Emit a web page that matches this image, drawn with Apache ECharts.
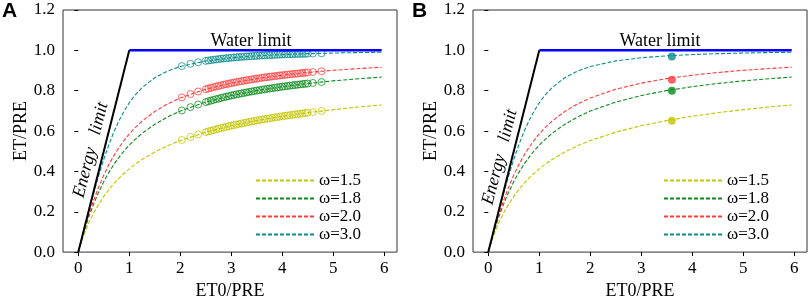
<!DOCTYPE html>
<html>
<head>
<meta charset="utf-8">
<script src="https://cdn.jsdelivr.net/npm/echarts@6/dist/echarts.min.js"></script>
<style>
  html, body { margin: 0; padding: 0; background: #fff; }
  #chart { width: 809px; height: 305px; }
</style>
</head>
<body>
<div id="chart"></div>
<script>
// ── Data ───────────────────────────────────────────────
const omegaNames = ['ω=1.5', 'ω=1.8', 'ω=2.0', 'ω=3.0'];
const omegaColors = ['#c4c400', '#0a8a1a', '#ff3b3b', '#0a8c8c'];

// Budyko curves (ET0/PRE -> ET/PRE)
const curveX = [0, 0.05, 0.1, 0.2, 0.3, 0.4, 0.5, 0.6, 0.7, 0.8, 0.9, 1.0, 1.1, 1.25,
                1.5, 1.75, 2.0, 2.5, 3.0, 3.5, 4.0, 4.5, 5.0, 5.5, 5.95];
const curve15 = [0, 0.0426, 0.0790, 0.1412, 0.1933, 0.2378, 0.2764, 0.3102, 0.3402, 0.3670, 0.3909, 0.4126, 0.4323, 0.4587,
                 0.4959, 0.5267, 0.5527, 0.5944, 0.6266, 0.6522, 0.6733, 0.6910, 0.7060, 0.7192, 0.7295];
const curve18 = [0, 0.0475, 0.0912, 0.1697, 0.2379, 0.2974, 0.3494, 0.3951, 0.4352, 0.4707, 0.5022, 0.5303, 0.5554, 0.5884,
                 0.6335, 0.6697, 0.6989, 0.7436, 0.7760, 0.8006, 0.8200, 0.8356, 0.8489, 0.8592, 0.8677];
const curve20 = [0, 0.0488, 0.0950, 0.1802, 0.2560, 0.3230, 0.3820, 0.4338, 0.4793, 0.5194, 0.5546, 0.5858, 0.6134, 0.6492,
                 0.6972, 0.7344, 0.7639, 0.8074, 0.8377, 0.8599, 0.8769, 0.8902, 0.9010, 0.9098, 0.9166];
const curve30 = [0, 0.0500, 0.0997, 0.1973, 0.2911, 0.3791, 0.4600, 0.5326, 0.5966, 0.6522, 0.6998, 0.7401, 0.7741, 0.8153,
                 0.8644, 0.8973, 0.9199, 0.9477, 0.9634, 0.9730, 0.9793, 0.9836, 0.9867, 0.9890, 0.9906];

// Panel A: station points (open circles)
const pointsX = [2.03, 2.2, 2.35, 2.5, 2.55, 2.6, 2.65, 2.7, 2.75, 2.8, 2.85, 2.9, 2.95, 3.0,
                 3.05, 3.1, 3.15, 3.2, 3.25, 3.3, 3.35, 3.4, 3.45, 3.5, 3.55, 3.6, 3.65, 3.7, 3.75, 3.8,
                 3.85, 3.9, 3.95, 4.0, 4.05, 4.1, 4.15, 4.2, 4.25, 4.3, 4.35, 4.4, 4.45, 4.5, 4.6, 4.77];
const points15 = [0.5556, 0.5708, 0.5831, 0.5944, 0.5980, 0.6015, 0.6049, 0.6082, 0.6114, 0.6146, 0.6177, 0.6207, 0.6237, 0.6266,
                  0.6294, 0.6321, 0.6348, 0.6374, 0.6400, 0.6425, 0.6450, 0.6475, 0.6499, 0.6522, 0.6545, 0.6567, 0.6589, 0.6611, 0.6632, 0.6653,
                  0.6673, 0.6693, 0.6713, 0.6733, 0.6752, 0.6770, 0.6789, 0.6807, 0.6825, 0.6842, 0.6859, 0.6876, 0.6893, 0.6910, 0.6942, 0.6995];
const points18 = [0.7020, 0.7186, 0.7317, 0.7436, 0.7472, 0.7508, 0.7543, 0.7577, 0.7609, 0.7641, 0.7672, 0.7702, 0.7731, 0.7760,
                  0.7787, 0.7814, 0.7840, 0.7865, 0.7890, 0.7915, 0.7939, 0.7962, 0.7984, 0.8006, 0.8027, 0.8048, 0.8069, 0.8089, 0.8108, 0.8127,
                  0.8146, 0.8164, 0.8182, 0.8200, 0.8217, 0.8234, 0.8250, 0.8266, 0.8282, 0.8297, 0.8312, 0.8327, 0.8342, 0.8356, 0.8384, 0.8429];
const points20 = [0.7671, 0.7834, 0.7961, 0.8074, 0.8109, 0.8143, 0.8176, 0.8208, 0.8238, 0.8268, 0.8296, 0.8324, 0.8351, 0.8377,
                  0.8402, 0.8427, 0.8451, 0.8474, 0.8496, 0.8518, 0.8539, 0.8560, 0.8580, 0.8599, 0.8618, 0.8637, 0.8655, 0.8673, 0.8690, 0.8706,
                  0.8722, 0.8738, 0.8754, 0.8769, 0.8784, 0.8798, 0.8812, 0.8826, 0.8840, 0.8853, 0.8866, 0.8878, 0.8890, 0.8902, 0.8926, 0.8963];
const points30 = [0.9221, 0.9332, 0.9411, 0.9477, 0.9497, 0.9516, 0.9533, 0.9550, 0.9566, 0.9581, 0.9595, 0.9609, 0.9622, 0.9634,
                  0.9646, 0.9657, 0.9668, 0.9678, 0.9688, 0.9697, 0.9706, 0.9714, 0.9722, 0.9730, 0.9738, 0.9745, 0.9752, 0.9758, 0.9765, 0.9771,
                  0.9777, 0.9782, 0.9788, 0.9793, 0.9798, 0.9803, 0.9808, 0.9812, 0.9817, 0.9821, 0.9825, 0.9828, 0.9832, 0.9836, 0.9843, 0.9854];

// Panel B: mean point per curve
const meanX = 3.6;
const meanY = [0.651, 0.800, 0.854, 0.970];

// Limits
const energyLimit = [[0, 0], [1, 1]];
const waterLimit  = [[1, 1], [5.95, 1]];

const xTicks = [0, 1, 2, 3, 4, 5, 6];

// ── Helpers ────────────────────────────────────────────
const FONT = "'Liberation Serif', 'Times New Roman', serif";
const curves = [curve15, curve18, curve20, curve30];
const points = [points15, points18, points20, points30];

const zip = (xs, ys) => xs.map((x, i) => [x, ys[i]]);

function panelSeries(g, withPoints) {
  const out = [];
  curves.forEach((ys, i) => {
    out.push({
      name: omegaNames[i], type: 'line', xAxisIndex: g, yAxisIndex: g,
      data: zip(curveX, ys), symbol: 'none', silent: true, z: 3,
      lineStyle: { color: omegaColors[i], width: 1.1, type: [4, 2] },
      itemStyle: { color: omegaColors[i] },
    });
  });
  if (withPoints) {
    points.forEach((ys, i) => {
      out.push({
        name: 'pts' + i, type: 'scatter', xAxisIndex: g, yAxisIndex: g,
        data: zip(pointsX, ys), symbol: 'circle', symbolSize: 7, z: 4,
        itemStyle: { color: 'rgba(255,255,255,0)', borderColor: omegaColors[i], borderWidth: 1, opacity: 0.75 },
      });
    });
  } else {
    meanY.forEach((y, i) => {
      out.push({
        name: 'mean' + i, type: 'scatter', xAxisIndex: g, yAxisIndex: g,
        data: [[meanX, y]], symbol: 'circle', symbolSize: 8, z: 5,
        itemStyle: { color: omegaColors[i] },
      });
    });
  }
  out.push({
    name: 'energy', type: 'line', xAxisIndex: g, yAxisIndex: g, data: energyLimit,
    symbol: 'none', z: 6, lineStyle: { color: '#000', width: 2 },
  });
  out.push({
    name: 'water', type: 'line', xAxisIndex: g, yAxisIndex: g, data: waterLimit,
    symbol: 'none', z: 6, lineStyle: { color: '#0000ff', width: 2.5 },
  });
  return out;
}

function xAxis(g) {
  return {
    type: 'value', gridIndex: g, min: -0.3, max: 6.25,
    name: 'ET0/PRE', nameLocation: 'middle', nameGap: 26,
    nameTextStyle: { fontFamily: FONT, fontSize: 18, color: '#000' },
    axisLine: { show: false },
    axisTick: { show: true, inside: false, length: 4, customValues: xTicks, lineStyle: { color: '#000' } },
    axisLabel: { customValues: xTicks, margin: 8, fontFamily: FONT, fontSize: 17, color: '#000' },
    splitLine: { show: false },
  };
}

function yAxis(g) {
  return {
    type: 'value', gridIndex: g, min: 0, max: 1.2, interval: 0.2,
    name: 'ET/PRE', nameLocation: 'middle', nameGap: 27,
    nameTextStyle: { fontFamily: FONT, fontSize: 18, color: '#000' },
    axisLine: { show: false },
    axisTick: { show: true, inside: false, length: 4, lineStyle: { color: '#000' } },
    axisLabel: { margin: 8, fontFamily: FONT, fontSize: 17, color: '#000', formatter: v => v.toFixed(1) },
    splitLine: { show: false },
  };
}

function legend(left) {
  return {
    data: omegaNames, orient: 'vertical', left: left, top: 167,
    itemWidth: 58, itemHeight: 12, itemGap: 1, selectedMode: false,
    itemStyle: { opacity: 0 },
    textStyle: { fontFamily: FONT, fontSize: 17, color: '#000' },
  };
}

function label(x, y, text, style) {
  return { type: 'text', x: x, y: y, style: Object.assign({ text: text, fill: '#000' }, style) };
}

// ── Chart ──────────────────────────────────────────────
const chart = echarts.init(document.getElementById('chart'), null, { renderer: 'canvas' });

const energyRot = 75.5 * Math.PI / 180;

chart.setOption({
  animation: false,
  backgroundColor: '#fff',
  grid: [
    { left: 63, top: 10, width: 334, height: 252, show: true, borderColor: '#333', borderWidth: 1, backgroundColor: 'transparent' },
    { left: 473, top: 10, width: 334, height: 252, show: true, borderColor: '#333', borderWidth: 1, backgroundColor: 'transparent' },
  ],
  xAxis: [xAxis(0), xAxis(1)],
  yAxis: [yAxis(0), yAxis(1)],
  legend: [legend(250), legend(658)],
  series: [...panelSeries(0, true), ...panelSeries(1, false)],
  graphic: [
    label(2, 1, 'A', { font: "bold 21px 'Liberation Sans', Arial, sans-serif" }),
    label(412, 1, 'B', { font: "bold 21px 'Liberation Sans', Arial, sans-serif" }),
    label(251, 41, 'Water limit', { font: "18px " + FONT, align: 'center', verticalAlign: 'middle' }),
    label(660, 41, 'Water limit', { font: "18px " + FONT, align: 'center', verticalAlign: 'middle' }),
    { type: 'text', x: 91, y: 150, rotation: energyRot,
      style: { text: 'Energy   limit', font: "italic 18px " + FONT, fill: '#000', align: 'center', verticalAlign: 'middle' } },
    { type: 'text', x: 500, y: 157, rotation: energyRot,
      style: { text: 'Energy   limit', font: "italic 18px " + FONT, fill: '#000', align: 'center', verticalAlign: 'middle' } },
  ],
});
</script>
</body>
</html>
